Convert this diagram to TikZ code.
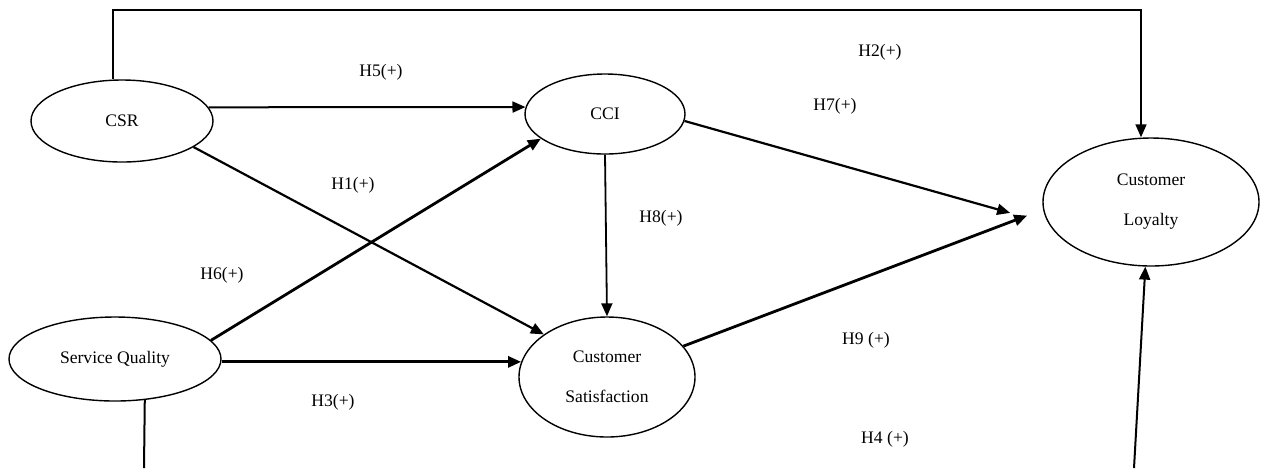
\documentclass[tikz,border=0pt]{standalone}
\usepackage{fontspec}
\setmainfont{Liberation Serif}
\usetikzlibrary{shapes.geometric,arrows.meta}

\begin{document}
\begin{tikzpicture}[x=0.5pt,y=-0.5pt,
    construct/.style={ellipse,draw,line width=0.7pt,inner sep=0pt,align=center,
      font=\fontsize{8.8}{20}\selectfont},
    link/.style={-{Triangle[length=6.5pt,width=5.5pt]},line width=1.1pt},
    heavylink/.style={link,line width=1.4pt},
    hyp/.style={font=\fontsize{8.8}{10}\selectfont}]
  \useasboundingbox (0,0) rectangle (1268,468);
  % constructs
  \node[construct,minimum width=91pt,minimum height=41pt] (csr) at (122,121) {CSR};
  \node[construct,minimum width=80pt,minimum height=40pt] (cci) at (605,114) {CCI};
  \node[construct,minimum width=108pt,minimum height=64pt] (loy) at (1151,202) {Customer\\Loyalty};
  \node[construct,minimum width=106pt,minimum height=42pt] (sq) at (115,359) {Service Quality};
  \node[construct,minimum width=88pt,minimum height=60pt] (sat) at (607,377) {Customer\\Satisfaction};
  \coordinate (rail) at (0,10);
  \coordinate (sqbot) at (144,468);
  \coordinate (loybot) at (1134,468);
  % hypotheses
  \node[hyp] (h2) at (880,52) {H2(+)};
  \node[hyp] (h5) at (381,72) {H5(+)};
  \node[hyp] (h7) at (835,106) {H7(+)};
  \node[hyp] (h1) at (353,185) {H1(+)};
  \node[hyp] (h8) at (661,218) {H8(+)};
  \node[hyp] (h6) at (222,275) {H6(+)};
  \node[hyp] (h9) at (866,340) {H9 (+)};
  \node[hyp] (h3) at (333,402) {H3(+)};
  \node[hyp] (h4) at (885,439) {H4 (+)};
  % paths
  \draw[link,line width=0.8pt] ([xshift=-4.5pt]csr.north) -- ([xshift=-4.5pt]csr.north |- rail)
    -| ([xshift=-5pt]loy.north);
  \draw[link,line width=1pt] (csr.9) -- (cci.175);
  \draw[link] (csr.-20) -- (sat.146);
  \draw[heavylink] (sq.11) -- (cci.201);
  \draw[heavylink] (sat.170 -| sq.east) -- (sat.170);
  \draw[link,line width=0.9pt] (cci.south) -- (sat.north);
  \draw[link,shorten >=20pt] (cci.-5) -- (loy.192);
  \draw[heavylink,shorten >=8.5pt] (sat.22) -- (loy.184);
  \draw[line width=1pt] (sq.-54) -- (sqbot);
  \draw[link,line width=1pt] (loybot) -- (loy.265);
\end{tikzpicture}
\end{document}
